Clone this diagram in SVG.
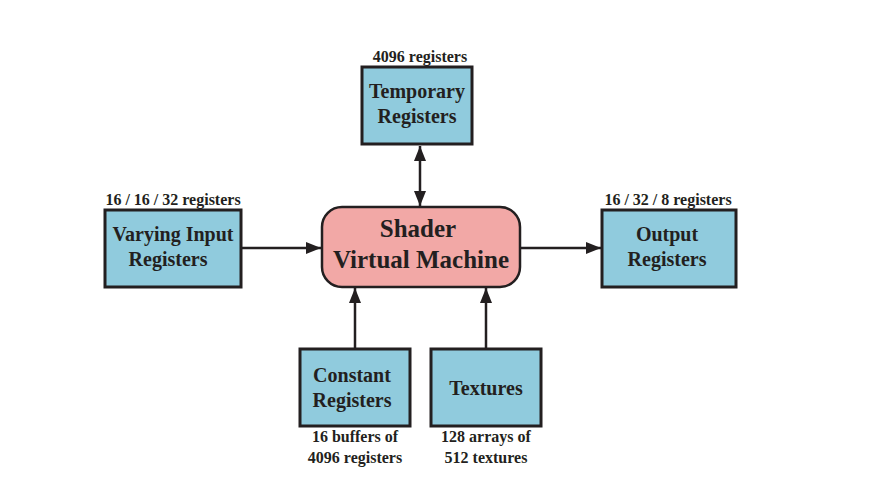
<svg xmlns="http://www.w3.org/2000/svg" width="880" height="482" viewBox="0 0 880 482">
<style>
.box{fill:#90CBDD;stroke:#231F20;stroke-width:3}
.sh{fill:#F2A8A6;stroke:#231F20;stroke-width:2.5}
.t{font-family:"Liberation Serif",serif;font-weight:bold;fill:#231F20;text-anchor:middle}
.m{font-size:20px}
.s{font-size:16px}
.l{font-size:25px}
.c{stroke:#231F20;stroke-width:2.5;fill:none}
</style>
<defs>
<marker id="ah" viewBox="0 0 10 10" refX="10" refY="5" markerWidth="6" markerHeight="6" orient="auto-start-reverse" markerUnits="strokeWidth">
<path d="M0,1 L10,5 L0,9 z" fill="#231F20"/>
</marker>
</defs>
<rect width="880" height="482" fill="#fff"/>
<g id="connectors">
<line class="c" x1="242" y1="248" x2="321" y2="248" marker-end="url(#ah)"/>
<line class="c" x1="520" y1="248" x2="601" y2="248" marker-end="url(#ah)"/>
<line class="c" x1="420" y1="146" x2="420" y2="206" marker-start="url(#ah)" marker-end="url(#ah)"/>
<line class="c" x1="355" y1="348" x2="355" y2="288" marker-end="url(#ah)"/>
<line class="c" x1="486" y1="348" x2="486" y2="288" marker-end="url(#ah)"/>
</g>
<g id="temporary">
<text class="t s" x="420" y="62">4096 registers</text>
<rect class="box" x="362" y="67" width="110" height="77"/>
<text class="t m" x="417" y="98">Temporary</text>
<text class="t m" x="417" y="123">Registers</text>
</g>
<g id="varying">
<text class="t s" x="173" y="205">16 / 16 / 32 registers</text>
<rect class="box" x="105" y="210" width="136" height="77"/>
<text class="t m" x="173" y="241">Varying Input</text>
<text class="t m" x="168" y="266">Registers</text>
</g>
<g id="shader">
<rect class="sh" x="322" y="207" width="198" height="80" rx="20"/>
<text class="t l" x="418" y="237">Shader</text>
<text class="t l" x="421" y="268">Virtual Machine</text>
</g>
<g id="output">
<text class="t s" x="668" y="205">16 / 32 / 8 registers</text>
<rect class="box" x="602" y="210" width="134" height="77"/>
<text class="t m" x="667" y="241">Output</text>
<text class="t m" x="667" y="266">Registers</text>
</g>
<g id="constant">
<rect class="box" x="300" y="349" width="110" height="77"/>
<text class="t m" x="352" y="382">Constant</text>
<text class="t m" x="352" y="407">Registers</text>
<text class="t s" x="355" y="442">16 buffers of</text>
<text class="t s" x="355" y="463">4096 registers</text>
</g>
<g id="textures">
<rect class="box" x="431" y="349" width="110" height="77"/>
<text class="t m" x="486" y="395">Textures</text>
<text class="t s" x="486" y="442">128 arrays of</text>
<text class="t s" x="486" y="463">512 textures</text>
</g>
</svg>
